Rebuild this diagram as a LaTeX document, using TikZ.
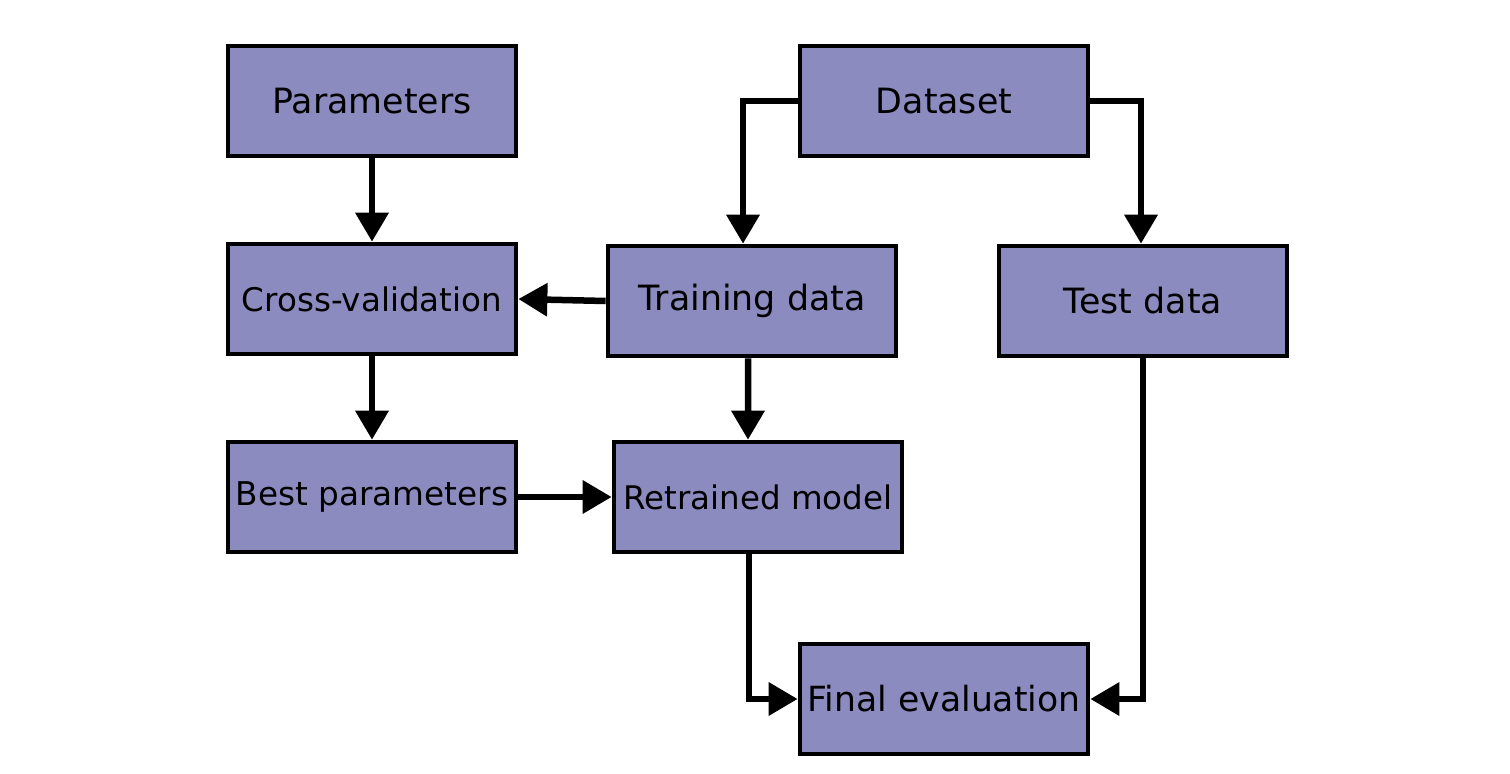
\documentclass[tikz,border=0pt]{standalone}
\usepackage{fontspec}
\setmainfont{DejaVu Sans}
\usetikzlibrary{arrows.meta}
\definecolor{boxfill}{RGB}{139,139,191}
\begin{document}
\begin{tikzpicture}[x=0.01cm,y=-0.01cm,
  box/.style={draw=black,fill=boxfill,line width=0.045cm,rectangle,
    minimum width=2.88cm,minimum height=1.10cm,inner sep=0pt,
    font=\fontsize{9.9}{12}\selectfont},
  conn/.style={line width=0.065cm,-{Triangle[width=0.32cm,length=0.29cm]}}]
\useasboundingbox (0,0) rectangle (1510,773);
\node[box] (param) at (372,101) {Parameters};
\node[box] (dataset) at (944,101) {Dataset};
\node[box] (cv) at (372,299) {\fontsize{9.25}{12}\selectfont Cross-validation};
\node[box] (train) at (752,301) {Training data};
\node[box] (test) at (1143,301) {Test data};
\node[box] (best) at (372,497) {\fontsize{9.3}{12}\selectfont Best parameters};
\node[box] (retrain) at (758,497) {\fontsize{9.25}{12}\selectfont Retrained model};
\node[box] (final) at (944,699) {\fontsize{9.85}{12}\selectfont Final evaluation};

\draw[conn] (param.south) -- (cv.north);
\draw[conn] (dataset.west) -| ([xshift=-0.09cm]train.north);
\draw[conn] (dataset.east) -| ([xshift=-0.02cm]test.north);
\draw[conn] (train.west) -- (cv.east);
\draw[conn] (cv.south) -- (best.north);
\draw[conn] ([xshift=-0.04cm]train.south) -- ([xshift=-0.1cm]retrain.north);
\draw[conn] (best.east) -- (retrain.west);
\draw[conn] ([xshift=-0.09cm]retrain.south) |- (final.west);
\draw[conn] (test.south) |- (final.east);
\end{tikzpicture}
\end{document}
